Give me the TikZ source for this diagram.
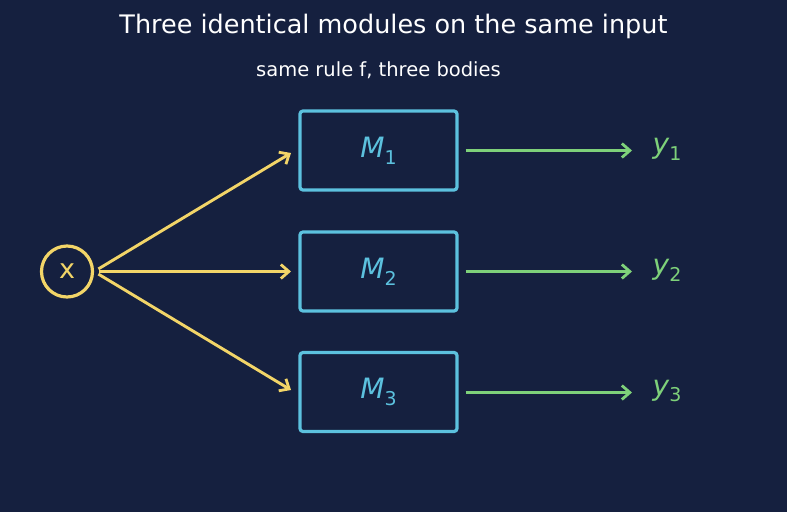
\documentclass[tikz,border=0pt]{standalone}
\usepackage{fontspec}
\setmainfont{DejaVu Sans}
\usetikzlibrary{arrows.meta}
\definecolor{bgnavy}{RGB}{21,32,63}
\definecolor{modcyan}{RGB}{92,193,222}
\definecolor{inyellow}{RGB}{242,213,104}
\definecolor{outgreen}{RGB}{126,209,122}
\newcommand{\sym}[2]{\textit{#1}\raisebox{-0.45ex}{\fontsize{19}{19}\selectfont #2}}

\begin{document}
\begin{tikzpicture}[x = 1pt, y = -1pt, line width = 3.2pt,
                        module/.style = {draw = modcyan, rounded corners = 3pt, minimum width = 157pt, minimum height = 79pt, text = modcyan, font = \fontsize{28}{28}\selectfont},
                        input/.style = {circle, draw = inyellow, minimum size = 51pt, inner sep = 0pt, text = inyellow, font = \fontsize{27}{27}\selectfont},
                        output/.style = {text = outgreen, font = \fontsize{28}{28}\selectfont},
                        feed/.style = {draw = inyellow, line width = 2.9pt, shorten <= 5pt, -{Straight Barb[length = 8pt, width = 14pt, line width = 2.8pt]}},
                        emit/.style = {draw = outgreen, line width = 2.9pt, -{Straight Barb[length = 8pt, width = 14pt, line width = 2.8pt]}}]
      \fill [bgnavy] (0, 0) rectangle (787, 512);
      \useasboundingbox (0, 0) rectangle (787, 512);
      \node [text = white, font = \fontsize{25.5}{25.5}\selectfont] (title) at (393.5, 26){Three identical modules on the same input};
      \node [text = white, font = \fontsize{19.5}{19.5}\selectfont] (subtitle) at (378.5, 70){same rule f, three bodies};
      \node [input] (x) at (67, 271.5){x};
      \node [module] (m1) at (378.5, 150.5){\sym{M}{1}};
      \node [module] (m2) at (378.5, 271.5){\sym{M}{2}};
      \node [module] (m3) at (378.5, 392){\sym{M}{3}};
      \node [output] (y1) at (667, 149){\sym{y}{1}};
      \node [output] (y2) at (667, 270){\sym{y}{2}};
      \node [output] (y3) at (667, 391){\sym{y}{3}};
      \coordinate (e1) at (291, 153);
      \coordinate (e2) at (291, 271.5);
      \coordinate (e3) at (291, 390);
      \coordinate (o1) at (632, 150.5);
      \coordinate (o2) at (632, 271.5);
      \coordinate (o3) at (632, 392.5);
      \draw [feed] (x.east) -- (e1);
      \draw [feed] (x.east) -- (e2);
      \draw [feed] (x.east) -- (e3);
      \draw [emit] ([xshift = 7pt]m1.east |- o1) -- (o1);
      \draw [emit] ([xshift = 7pt]m2.east |- o2) -- (o2);
      \draw [emit] ([xshift = 7pt]m3.east |- o3) -- (o3);
    \end{tikzpicture}
\end{document}
